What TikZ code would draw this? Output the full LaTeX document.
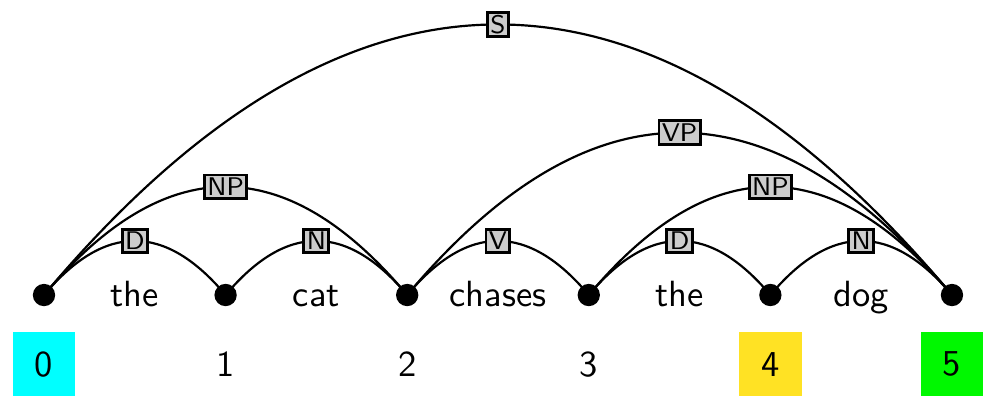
\documentclass[tikz,border=0pt]{standalone}
\renewcommand{\familydefault}{\sfdefault}
\definecolor{startcol}{RGB}{0,255,255}
\definecolor{agendacol}{RGB}{255,226,36}
\definecolor{endcol}{RGB}{0,248,0}
\tikzset{
  vertex/.style={circle, fill=black, inner sep=0pt, minimum size=2.15mm},
  word/.style={anchor=base},
  chartpos/.style={minimum width=6mm, minimum height=6.3mm, inner sep=0pt},
  edgelabel/.style={draw, thick, fill=black!20, font=\scriptsize, inner sep=0.8pt},
  chartedge/.style={semithick, out=50, in=130, looseness=1.33}
}

\begin{document}
\begin{tikzpicture}
			%%%%% START %%%%%
			\useasboundingbox (-0.424, -0.973) rectangle (9.097, 2.843);
			
			\node[vertex] (v0) at (0, 0) {};
			\node[vertex] (v1) at (1.75, 0) {};
			\node[vertex] (v2) at (3.5, 0) {};
			\node[vertex] (v3) at (5.25, 0) {};
			\node[vertex] (v4) at (7, 0) {};
			\node[vertex] (v5) at (8.75, 0) {};
			
			\node[word] (w1) at (0.875, -0.106) {the};
			\node[word] (w2) at (2.625, -0.106) {cat};
			\node[word] (w3) at (4.375, -0.106) {chases};
			\node[word] (w4) at (6.125, -0.106) {the};
			\node[word] (w5) at (7.875, -0.106) {dog};
			
			\node[chartpos, fill=startcol] (p0) at (0, -0.667) {0};
			\node[chartpos] (p1) at (1.75, -0.667) {1};
			\node[chartpos] (p2) at (3.5, -0.667) {2};
			\node[chartpos] (p3) at (5.25, -0.667) {3};
			\node[chartpos, fill=agendacol] (p4) at (7, -0.667) {4};
			\node[chartpos, fill=endcol] (p5) at (8.75, -0.667) {5};
			
			\draw[chartedge] (v0.center) to node[edgelabel] {D} (v1.center);
			\draw[chartedge] (v1.center) to node[edgelabel] {N} (v2.center);
			\draw[chartedge] (v2.center) to node[edgelabel] {V} (v3.center);
			\draw[chartedge] (v3.center) to node[edgelabel] {D} (v4.center);
			\draw[chartedge] (v4.center) to node[edgelabel] {N} (v5.center);
			
			\draw[chartedge] (v0.center) to node[edgelabel] {NP} (v2.center);
			\draw[chartedge] (v3.center) to node[edgelabel] {NP} (v5.center);
			\draw[chartedge] (v2.center) to node[edgelabel] {VP} (v5.center);
			\draw[chartedge] (v0.center) to node[edgelabel] {S} (v5.center);
			
			%%%%% END %%%%%
\end{tikzpicture}
\end{document}
